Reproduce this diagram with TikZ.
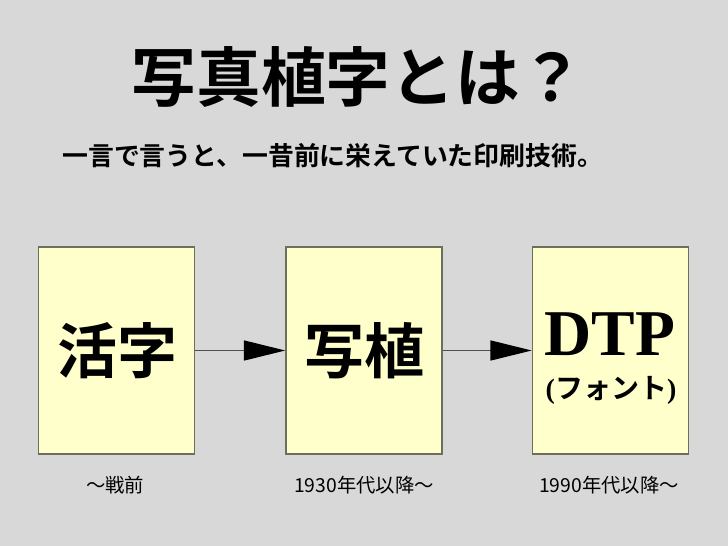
\documentclass[tikz,border=0pt]{standalone}
\usepackage{fontspec}
\setmainfont{Liberation Serif}
\newfontfamily\jp{Noto Sans CJK JP}
\newfontfamily\jpb{Noto Sans CJK JP}[BoldFont={* Bold}]
\usetikzlibrary{arrows.meta}
\definecolor{bgc}{HTML}{D8D8D8}
\definecolor{boxfill}{HTML}{FFFFCC}
\definecolor{boxline}{HTML}{6E6E5E}
\definecolor{arrc}{HTML}{505050}
\tikzset{
  stagebox/.style={draw=boxline, line width=1.1pt, fill=boxfill, minimum width=117pt, minimum height=155pt, inner sep=0pt},
  flowarrow/.style={draw=arrc, line width=1pt, -{Triangle[length=31pt,width=15pt,fill=black,color=black]}},
  datelabel/.style={font=\jp\fontsize{14.5}{16}\selectfont, text=black, inner sep=0pt}
}
\begin{document}
\begin{tikzpicture}[x=0.75pt,y=-0.75pt]
\fill[bgc] (0,0) rectangle (728,546);
\useasboundingbox (0,0) rectangle (728,546);
\node[inner sep=0pt, font=\jpb\bfseries\fontsize{48.5}{52}\selectfont] (title) at (358,77) {写真植字とは？};
\node[inner sep=0pt, anchor=west, font=\jpb\bfseries\fontsize{19.4}{22}\selectfont] (sub) at (62,156) {一言で言うと、一昔前に栄えていた印刷技術。};
\node[stagebox] (b1) at (116.5,350.5) {};
\node[stagebox] (b2) at (364,350.5) {};
\node[stagebox] (b3) at (610.5,350.5) {};
\node[inner sep=0pt, font=\jpb\bfseries\fontsize{45}{48}\selectfont] (t1) at (117,351) {活字};
\node[inner sep=0pt, font=\jpb\bfseries\fontsize{45}{48}\selectfont] (t2) at (364,351) {写植};
\node[inner sep=0pt, font=\bfseries\fontsize{49}{52}\selectfont] (t3) at (610,334) {DTP};
\node[inner sep=0pt, font=\bfseries\fontsize{21}{24}\selectfont] (t4) at (611,390) {({\jpb\bfseries フォント})};
\draw[flowarrow] (b1.east) -- (b2.west);
\draw[flowarrow] (b2.east) -- (b3.west);
\node[datelabel] (d1) at (115,485) {～戦前};
\node[datelabel] (d2) at (364,485) {1930年代以降～};
\node[datelabel] (d3) at (609,485) {1990年代以降～};
\end{tikzpicture}
\end{document}
